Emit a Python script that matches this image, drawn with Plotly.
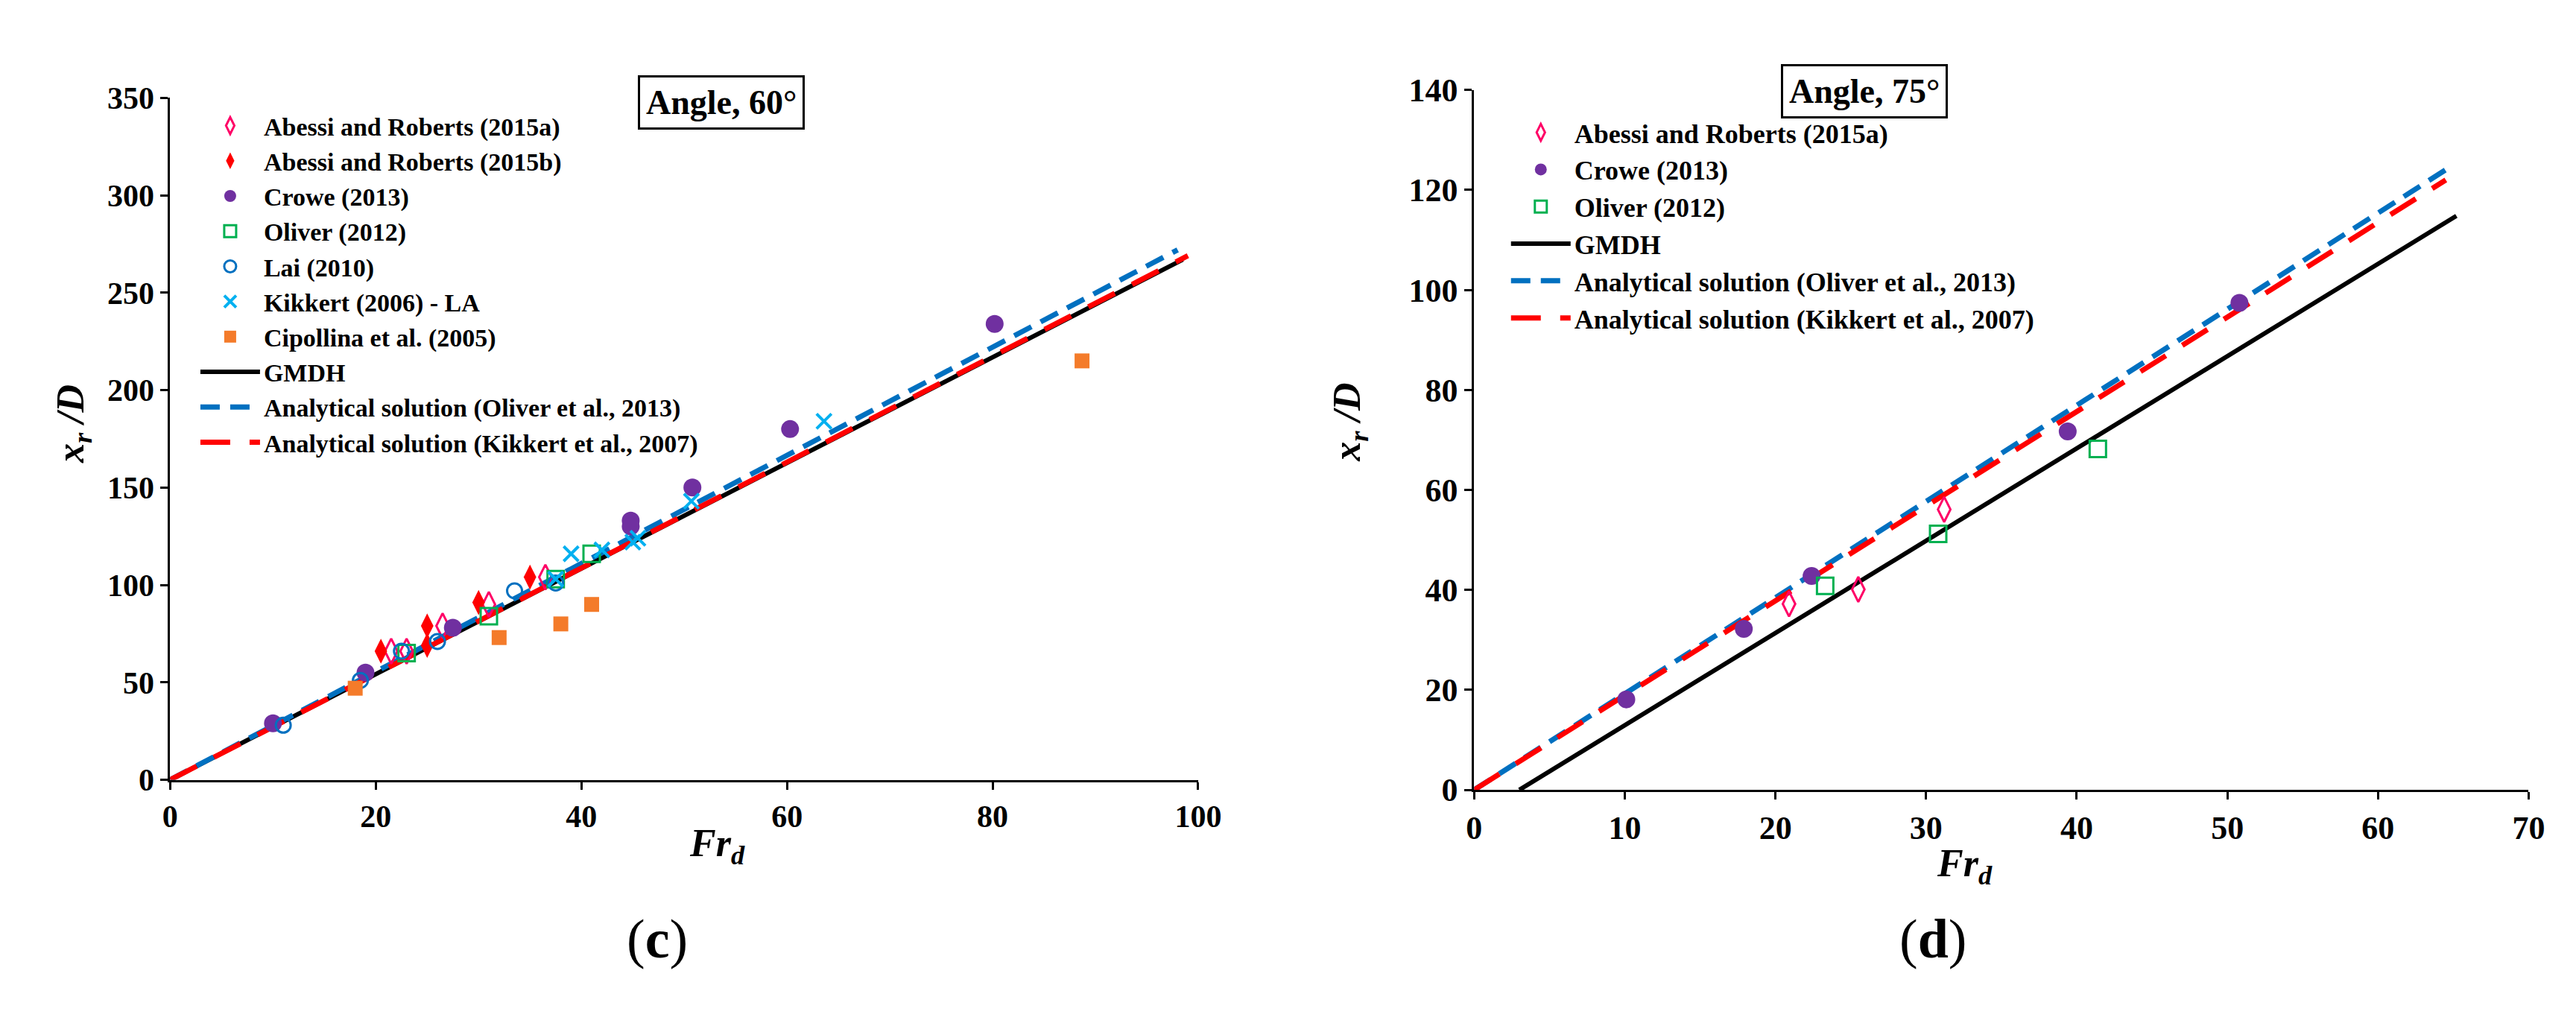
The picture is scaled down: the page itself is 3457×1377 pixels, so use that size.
import plotly.graph_objects as go

# ---------------- data: panel (c) Angle 60 ----------------
c_abessi_a_x = [21.5, 23.0, 26.5, 31.0, 36.5]
c_abessi_a_y = [66, 66, 79, 90, 104]
c_abessi_b_x = [20.5, 25.0, 25.0, 30.0, 35.0]
c_abessi_b_y = [66, 69, 79, 91, 104]
c_crowe_x = [10.0, 19.0, 27.5, 44.8, 44.8, 50.8, 60.3, 80.2]
c_crowe_y = [29, 55, 78, 133, 130, 150, 180, 234]
c_oliver_x = [23.0, 31.0, 37.5, 41.0]
c_oliver_y = [65, 84, 103, 116]
c_lai_x = [11.0, 18.5, 22.5, 26.0, 33.5, 37.5]
c_lai_y = [28, 51, 66, 71, 97, 101]
c_kikkert_x = [37.5, 39.0, 42.0, 45.0, 45.5, 50.7, 63.6]
c_kikkert_y = [103, 116, 118, 122, 124, 143, 184]
c_cipollina_x = [18.0, 32.0, 38.0, 41.0, 88.7]
c_cipollina_y = [47, 73, 80, 90, 215]
c_gmdh_x = [0, 98.5]
c_gmdh_y = [0, 267]
c_oliver_an_x = [0, 98]
c_oliver_an_y = [0, 272]
c_kikkert_an_x = [0, 99]
c_kikkert_an_y = [0, 269]

# ---------------- data: panel (d) Angle 75 ----------------
d_abessi_a_x = [20.9, 25.5, 31.2]
d_abessi_a_y = [37.2, 40.1, 56.1]
d_crowe_x = [10.1, 17.9, 22.4, 39.4, 50.8]
d_crowe_y = [18.1, 32.2, 42.8, 71.7, 97.4]
d_oliver_x = [23.3, 30.8, 41.4]
d_oliver_y = [40.8, 51.2, 68.2]
d_gmdh_x = [3.0, 65.2]
d_gmdh_y = [0, 114.8]
d_oliver_an_x = [0, 65]
d_oliver_an_y = [0, 125]
d_kikkert_an_x = [0, 64.5]
d_kikkert_an_y = [0, 122]

c_xticks = [0, 20, 40, 60, 80, 100]
c_yticks = [0, 50, 100, 150, 200, 250, 300, 350]
d_xticks = [0, 10, 20, 30, 40, 50, 60, 70]
d_yticks = [0, 20, 40, 60, 80, 100, 120, 140]

FONT = "Liberation Serif, Times New Roman, serif"
PINK = "#FF0066"
RED = "#FF0000"
PURPLE = "#7030A0"
GREEN = "#00B050"
BLUE = "#0070C0"
CYAN = "#00B0F0"
ORANGE = "#F47B2A"
DBLUE = "#0070C0"

fig = go.Figure()

def scat(x, y, name, symbol, color, size, xa, ya, leg, rank, filled=False, lw=3):
    if filled:
        marker = dict(symbol=symbol, size=size, color=color, line=dict(width=0))
    else:
        marker = dict(symbol=symbol, size=size, color=color, line=dict(width=lw, color=color))
    fig.add_trace(go.Scatter(x=x, y=y, mode="markers", name=name, marker=marker,
                             xaxis=xa, yaxis=ya, legend=leg, legendrank=rank))

def line(x, y, name, color, width, dash, xa, ya, leg, rank):
    fig.add_trace(go.Scatter(x=x, y=y, mode="lines", name=name,
                             line=dict(color=color, width=width, dash=dash),
                             xaxis=xa, yaxis=ya, legend=leg, legendrank=rank))

# lines first (drawn beneath markers), ordered in legend via legendrank
line(c_gmdh_x, c_gmdh_y, "GMDH", "black", 6, "solid", "x", "y", "legend", 8)
line(c_oliver_an_x, c_oliver_an_y, "Analytical solution (Oliver et al., 2013)", DBLUE, 7, "26px,14px", "x", "y", "legend", 9)
line(c_kikkert_an_x, c_kikkert_an_y, "Analytical solution (Kikkert et al., 2007)", RED, 7, "40px,26px", "x", "y", "legend", 10)

scat(c_abessi_a_x, c_abessi_a_y, "Abessi and Roberts (2015a)", "diamond-tall-open", PINK, 24, "x", "y", "legend", 1)
scat(c_abessi_b_x, c_abessi_b_y, "Abessi and Roberts (2015b)", "diamond-tall", RED, 24, "x", "y", "legend", 2, filled=True)
scat(c_crowe_x, c_crowe_y, "Crowe (2013)", "circle", PURPLE, 24, "x", "y", "legend", 3, filled=True)
scat(c_oliver_x, c_oliver_y, "Oliver (2012)", "square-open", GREEN, 22, "x", "y", "legend", 4)
scat(c_lai_x, c_lai_y, "Lai (2010)", "circle-open", BLUE, 20, "x", "y", "legend", 5)
scat(c_kikkert_x, c_kikkert_y, "Kikkert (2006) - LA", "x-thin-open", CYAN, 20, "x", "y", "legend", 6, lw=4)
scat(c_cipollina_x, c_cipollina_y, "Cipollina et al. (2005)", "square", ORANGE, 20, "x", "y", "legend", 7, filled=True)

line(d_gmdh_x, d_gmdh_y, "GMDH", "black", 6, "solid", "x2", "y2", "legend2", 4)
line(d_oliver_an_x, d_oliver_an_y, "Analytical solution (Oliver et al., 2013)", DBLUE, 7, "26px,14px", "x2", "y2", "legend2", 5)
line(d_kikkert_an_x, d_kikkert_an_y, "Analytical solution (Kikkert et al., 2007)", RED, 7, "40px,26px", "x2", "y2", "legend2", 6)

scat(d_abessi_a_x, d_abessi_a_y, "Abessi and Roberts (2015a)", "diamond-tall-open", PINK, 24, "x2", "y2", "legend2", 1)
scat(d_crowe_x, d_crowe_y, "Crowe (2013)", "circle", PURPLE, 24, "x2", "y2", "legend2", 2, filled=True)
scat(d_oliver_x, d_oliver_y, "Oliver (2012)", "square-open", GREEN, 22, "x2", "y2", "legend2", 3)

W, H = 3457, 1377

def ax(domain, rng, ticks, anchor, fsize):
    return dict(domain=domain, range=rng, tickvals=ticks, anchor=anchor,
                showgrid=False, zeroline=False, showline=True, linewidth=3,
                linecolor="black", ticks="outside", ticklen=10, tickwidth=3,
                tickcolor="black",
                tickfont=dict(family=FONT, size=fsize, color="black", weight="bold"))

legfont = dict(family=FONT, size=34, color="black", weight="bold")

fig.update_layout(
    width=W, height=H,
    margin=dict(l=0, r=0, t=0, b=0),
    paper_bgcolor="white", plot_bgcolor="white",
    xaxis=ax([212 / W, 1609 / W], [0, 100], c_xticks, "y", 42),
    yaxis=ax([1 - 1052 / H, 1 - 103 / H], [0, 350], c_yticks, "x", 42),
    xaxis2=ax([1984 / W, 3417 / W], [0, 70], d_xticks, "y2", 44),
    yaxis2=ax([1 - 1066 / H, 1 - 92 / H], [0, 140], d_yticks, "x2", 44),
    legend=dict(x=248 / W, y=1 - 112 / H, xanchor="left", yanchor="top",
                font=legfont, bgcolor="rgba(0,0,0,0)", itemwidth=80,
                traceorder="normal", tracegroupgap=0),
    legend2=dict(x=2029 / W, y=1 - 120 / H, xanchor="left", yanchor="top",
                 font=dict(family=FONT, size=36, color="black", weight="bold"),
                 bgcolor="rgba(0,0,0,0)", itemwidth=80,
                 traceorder="normal", tracegroupgap=0),
    showlegend=True,
)

ann_common = dict(xref="paper", yref="paper", showarrow=False)
fig.add_annotation(x=848 / W, y=1 - 72 / H, text="<b>Angle, 60°</b>",
                   font=dict(family=FONT, size=46, color="black"),
                   bordercolor="black", borderwidth=3, borderpad=8, bgcolor="white", **ann_common)
fig.add_annotation(x=2628 / W, y=1 - 56 / H, text="<b>Angle, 75°</b>",
                   font=dict(family=FONT, size=46, color="black"),
                   bordercolor="black", borderwidth=3, borderpad=8, bgcolor="white", **ann_common)

ytitle = "<b><i>x<sub>r</sub> /D</i></b>"
fig.add_annotation(x=45 / W, y=1 - 557 / H, text=ytitle, textangle=-90,
                   font=dict(family=FONT, size=52, color="black"), **ann_common)
fig.add_annotation(x=1815 / W, y=1 - 554 / H, text=ytitle, textangle=-90,
                   font=dict(family=FONT, size=52, color="black"), **ann_common)

xtitle = "<b><i>Fr<sub>d</sub></i></b>"
fig.add_annotation(x=915 / W, y=1 - 1180 / H, text=xtitle,
                   font=dict(family=FONT, size=52, color="black"), **ann_common)
fig.add_annotation(x=2690 / W, y=1 - 1208 / H, text=xtitle,
                   font=dict(family=FONT, size=52, color="black"), **ann_common)

fig.add_annotation(x=830 / W, y=1 - 1318 / H, text="(<b>c</b>)",
                   font=dict(family=FONT, size=74, color="black"), **ann_common)
fig.add_annotation(x=2655 / W, y=1 - 1318 / H, text="(<b>d</b>)",
                   font=dict(family=FONT, size=74, color="black"), **ann_common)

fig.write_html("out.html")
